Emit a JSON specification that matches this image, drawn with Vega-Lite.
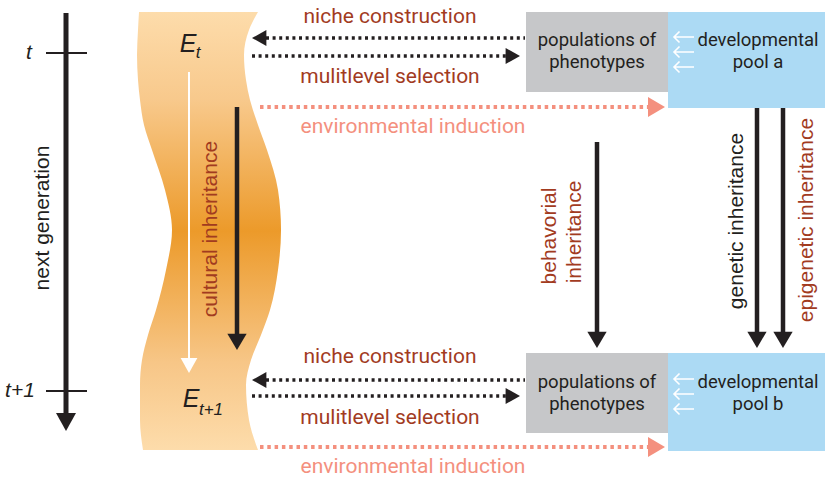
{
  "$schema": "https://vega.github.io/schema/vega-lite/v6.json",
  "width": 825,
  "height": 477,
  "padding": 0,
  "autosize": {"type": "none"},
  "background": "white",
  "config": {"view": {"stroke": null}},
  "datasets": {
    "band": [
      {"y": 12, "x": 139, "x2": 258},
      {"y": 30, "x": 138, "x2": 249},
      {"y": 55, "x": 137, "x2": 244},
      {"y": 80, "x": 138, "x2": 246},
      {"y": 100, "x": 140, "x2": 250},
      {"y": 125, "x": 144, "x2": 258},
      {"y": 150, "x": 152, "x2": 267},
      {"y": 190, "x": 165, "x2": 278},
      {"y": 230, "x": 172, "x2": 281},
      {"y": 270, "x": 166, "x2": 278},
      {"y": 310, "x": 156, "x2": 270},
      {"y": 335, "x": 148, "x2": 261},
      {"y": 360, "x": 142, "x2": 251},
      {"y": 385, "x": 140, "x2": 246},
      {"y": 420, "x": 140, "x2": 249},
      {"y": 450, "x": 143, "x2": 258}
    ],
    "boxes": [
      {"x": 526, "x2": 668, "y": 12, "y2": 92, "kind": "pop"},
      {"x": 668, "x2": 825, "y": 12, "y2": 108, "kind": "dev"},
      {"x": 526, "x2": 668, "y": 353, "y2": 433, "kind": "pop"},
      {"x": 668, "x2": 825, "y": 353, "y2": 451, "kind": "dev"}
    ],
    "lines": [
      {"x": 66, "x2": 66, "y": 13, "y2": 414, "kind": "timeline"},
      {"x": 46, "x2": 87, "y": 53, "y2": 53, "kind": "tick"},
      {"x": 46, "x2": 87, "y": 391, "y2": 391, "kind": "tick"},
      {"x": 237, "x2": 237, "y": 107, "y2": 336, "kind": "solid"},
      {"x": 597, "x2": 597, "y": 142, "y2": 334, "kind": "solid"},
      {"x": 757, "x2": 757, "y": 108, "y2": 334, "kind": "solid"},
      {"x": 783, "x2": 783, "y": 108, "y2": 334, "kind": "solid"},
      {"x": 189, "x2": 189, "y": 72, "y2": 358, "kind": "white"},
      {"x": 266, "x2": 525, "y": 38, "y2": 38, "kind": "dotted"},
      {"x": 252, "x2": 506, "y": 56, "y2": 56, "kind": "dotted"},
      {"x": 266, "x2": 525, "y": 380, "y2": 380, "kind": "dotted"},
      {"x": 252, "x2": 506, "y": 396, "y2": 396, "kind": "dotted"},
      {"x": 260, "x2": 648, "y": 107, "y2": 107, "kind": "env"},
      {"x": 260, "x2": 648, "y": 447, "y2": 447, "kind": "env"}
    ],
    "heads": [
      {"x": 66, "y": 431, "kind": "bigdown"},
      {"x": 237, "y": 350, "kind": "down"},
      {"x": 597, "y": 348, "kind": "down"},
      {"x": 757, "y": 348, "kind": "down"},
      {"x": 783, "y": 348, "kind": "down"},
      {"x": 189, "y": 373, "kind": "whitedown"},
      {"x": 252, "y": 38, "kind": "left"},
      {"x": 252, "y": 380, "kind": "left"},
      {"x": 520, "y": 56, "kind": "right"},
      {"x": 520, "y": 396, "kind": "right"},
      {"x": 665, "y": 107, "kind": "envright"},
      {"x": 665, "y": 447, "kind": "envright"}
    ],
    "smallarrows": [
      {"x": 684, "y": 37}, {"x": 684, "y": 52}, {"x": 684, "y": 67},
      {"x": 684, "y": 379}, {"x": 684, "y": 394}, {"x": 684, "y": 409}
    ],
    "texts": [
      {"x": 390, "y": 17, "label": "niche construction", "kind": "brown"},
      {"x": 390, "y": 77, "label": "mulitlevel selection", "kind": "brown"},
      {"x": 390, "y": 357, "label": "niche construction", "kind": "brown"},
      {"x": 390, "y": 418, "label": "mulitlevel selection", "kind": "brown"},
      {"x": 413, "y": 127, "label": "environmental induction", "kind": "salmon"},
      {"x": 413, "y": 467, "label": "environmental induction", "kind": "salmon"},
      {"x": 597, "y": 40, "label": "populations of", "kind": "box"},
      {"x": 597, "y": 62, "label": "phenotypes", "kind": "box"},
      {"x": 758, "y": 40, "label": "developmental", "kind": "box"},
      {"x": 758, "y": 62, "label": "pool a", "kind": "box"},
      {"x": 597, "y": 382, "label": "populations of", "kind": "box"},
      {"x": 597, "y": 404, "label": "phenotypes", "kind": "box"},
      {"x": 758, "y": 382, "label": "developmental", "kind": "box"},
      {"x": 758, "y": 404, "label": "pool b", "kind": "box"},
      {"x": 211, "y": 229, "label": "cultural inheritance", "kind": "rotbrown"},
      {"x": 550, "y": 236, "label": "behavorial", "kind": "rotbrown"},
      {"x": 575, "y": 232, "label": "inheritance", "kind": "rotbrown"},
      {"x": 807, "y": 220, "label": "epigenetic inheritance", "kind": "rotbrown"},
      {"x": 43, "y": 218, "label": "next generation", "kind": "rotdark"},
      {"x": 737, "y": 221, "label": "genetic inheritance", "kind": "rotdark"},
      {"x": 29, "y": 53, "label": "t", "kind": "ital"},
      {"x": 20, "y": 391, "label": "t+1", "kind": "ital"},
      {"x": 188, "y": 44, "label": "E", "kind": "E"},
      {"x": 191, "y": 399, "label": "E", "kind": "E"},
      {"x": 198, "y": 53, "label": "t", "kind": "sub"},
      {"x": 211, "y": 410, "label": "t+1", "kind": "sub"}
    ]
  },
  "encoding": {
    "x": {"field": "x", "type": "quantitative", "scale": {"domain": [0, 825], "nice": false, "zero": false}, "axis": null},
    "y": {"field": "y", "type": "quantitative", "scale": {"domain": [0, 477], "nice": false, "zero": false, "reverse": true}, "axis": null}
  },
  "layer": [
    {
      "data": {"name": "band"},
      "mark": {
        "type": "area", "orient": "horizontal", "interpolate": "monotone",
        "fill": {"gradient": "linear", "x1": 0, "y1": 0, "x2": 0, "y2": 1,
          "stops": [
            {"offset": 0, "color": "#fddcab"},
            {"offset": 0.2, "color": "#f8c98c"},
            {"offset": 0.5, "color": "#ec9a2a"},
            {"offset": 0.8, "color": "#f7c687"},
            {"offset": 1, "color": "#fddcab"}
          ]}
      },
      "encoding": {"x2": {"field": "x2"}}
    },
    {
      "data": {"name": "boxes"},
      "transform": [{"filter": "datum.kind === 'pop'"}],
      "mark": {"type": "rect", "color": "#c6c7c9"},
      "encoding": {"x2": {"field": "x2"}, "y2": {"field": "y2"}}
    },
    {
      "data": {"name": "boxes"},
      "transform": [{"filter": "datum.kind === 'dev'"}],
      "mark": {"type": "rect", "color": "#acdaf4"},
      "encoding": {"x2": {"field": "x2"}, "y2": {"field": "y2"}}
    },
    {
      "data": {"name": "lines"},
      "transform": [{"filter": "datum.kind === 'timeline'"}],
      "mark": {"type": "rule", "color": "#231f20", "strokeWidth": 5},
      "encoding": {"x2": {"field": "x2"}, "y2": {"field": "y2"}}
    },
    {
      "data": {"name": "lines"},
      "transform": [{"filter": "datum.kind === 'tick'"}],
      "mark": {"type": "rule", "color": "#231f20", "strokeWidth": 2},
      "encoding": {"x2": {"field": "x2"}, "y2": {"field": "y2"}}
    },
    {
      "data": {"name": "lines"},
      "transform": [{"filter": "datum.kind === 'solid'"}],
      "mark": {"type": "rule", "color": "#231f20", "strokeWidth": 4.5},
      "encoding": {"x2": {"field": "x2"}, "y2": {"field": "y2"}}
    },
    {
      "data": {"name": "lines"},
      "transform": [{"filter": "datum.kind === 'white'"}],
      "mark": {"type": "rule", "color": "#ffffff", "strokeWidth": 2},
      "encoding": {"x2": {"field": "x2"}, "y2": {"field": "y2"}}
    },
    {
      "data": {"name": "lines"},
      "transform": [{"filter": "datum.kind === 'dotted'"}],
      "mark": {"type": "rule", "color": "#231f20", "strokeWidth": 3.5, "strokeDash": [3, 3.6]},
      "encoding": {"x2": {"field": "x2"}, "y2": {"field": "y2"}}
    },
    {
      "data": {"name": "lines"},
      "transform": [{"filter": "datum.kind === 'env'"}],
      "mark": {"type": "rule", "color": "#f4907e", "strokeWidth": 4, "strokeDash": [3.5, 3.8]},
      "encoding": {"x2": {"field": "x2"}, "y2": {"field": "y2"}}
    },
    {
      "data": {"name": "heads"},
      "transform": [{"filter": "datum.kind === 'bigdown'"}],
      "mark": {"type": "point", "filled": true, "opacity": 1, "color": "#231f20", "strokeWidth": 0, "shape": "M0,0L-1,-1.8L1,-1.8Z", "size": 400}
    },
    {
      "data": {"name": "heads"},
      "transform": [{"filter": "datum.kind === 'down'"}],
      "mark": {"type": "point", "filled": true, "opacity": 1, "color": "#231f20", "strokeWidth": 0, "shape": "M0,0L-1,-1.7L1,-1.7Z", "size": 370}
    },
    {
      "data": {"name": "heads"},
      "transform": [{"filter": "datum.kind === 'whitedown'"}],
      "mark": {"type": "point", "filled": true, "opacity": 1, "color": "#ffffff", "strokeWidth": 0, "shape": "M0,0L-1,-1.8L1,-1.8Z", "size": 280}
    },
    {
      "data": {"name": "heads"},
      "transform": [{"filter": "datum.kind === 'left'"}],
      "mark": {"type": "point", "filled": true, "opacity": 1, "color": "#231f20", "strokeWidth": 0, "shape": "M0,0L1.8,-1L1.8,1Z", "size": 256}
    },
    {
      "data": {"name": "heads"},
      "transform": [{"filter": "datum.kind === 'right'"}],
      "mark": {"type": "point", "filled": true, "opacity": 1, "color": "#231f20", "strokeWidth": 0, "shape": "M0,0L-1.8,-1L-1.8,1Z", "size": 256}
    },
    {
      "data": {"name": "heads"},
      "transform": [{"filter": "datum.kind === 'envright'"}],
      "mark": {"type": "point", "filled": true, "opacity": 1, "color": "#f4907e", "strokeWidth": 0, "shape": "M0,0L-1.7,-1L-1.7,1Z", "size": 400}
    },
    {
      "data": {"name": "smallarrows"},
      "mark": {"type": "point", "filled": false, "opacity": 1, "color": "#ffffff", "strokeWidth": 1.6, "shape": "M1,0L-1,0M-0.45,-0.55L-1,0L-0.45,0.55", "size": 400}
    },
    {
      "data": {"name": "texts"},
      "transform": [{"filter": "datum.kind === 'brown'"}],
      "mark": {"type": "text", "font": "Roboto", "fontSize": 21, "color": "#a23b1f", "align": "center", "baseline": "middle"},
      "encoding": {"text": {"field": "label"}}
    },
    {
      "data": {"name": "texts"},
      "transform": [{"filter": "datum.kind === 'salmon'"}],
      "mark": {"type": "text", "font": "Roboto", "fontSize": 21, "color": "#f4907e", "align": "center", "baseline": "middle"},
      "encoding": {"text": {"field": "label"}}
    },
    {
      "data": {"name": "texts"},
      "transform": [{"filter": "datum.kind === 'box'"}],
      "mark": {"type": "text", "font": "Roboto", "fontSize": 18.5, "color": "#231f20", "align": "center", "baseline": "middle"},
      "encoding": {"text": {"field": "label"}}
    },
    {
      "data": {"name": "texts"},
      "transform": [{"filter": "datum.kind === 'rotbrown'"}],
      "mark": {"type": "text", "font": "Liberation Sans", "fontSize": 21, "color": "#a23b1f", "align": "center", "baseline": "middle", "angle": 270},
      "encoding": {"text": {"field": "label"}}
    },
    {
      "data": {"name": "texts"},
      "transform": [{"filter": "datum.kind === 'rotdark'"}],
      "mark": {"type": "text", "font": "Liberation Sans", "fontSize": 21, "color": "#231f20", "align": "center", "baseline": "middle", "angle": 270},
      "encoding": {"text": {"field": "label"}}
    },
    {
      "data": {"name": "texts"},
      "transform": [{"filter": "datum.kind === 'ital'"}],
      "mark": {"type": "text", "font": "Liberation Sans", "fontStyle": "italic", "fontSize": 21, "color": "#231f20", "align": "center", "baseline": "middle"},
      "encoding": {"text": {"field": "label"}}
    },
    {
      "data": {"name": "texts"},
      "transform": [{"filter": "datum.kind === 'E'"}],
      "mark": {"type": "text", "font": "Liberation Sans", "fontStyle": "italic", "fontSize": 25, "color": "#231f20", "align": "center", "baseline": "middle"},
      "encoding": {"text": {"field": "label"}}
    },
    {
      "data": {"name": "texts"},
      "transform": [{"filter": "datum.kind === 'sub'"}],
      "mark": {"type": "text", "font": "Liberation Sans", "fontStyle": "italic", "fontSize": 17, "color": "#231f20", "align": "center", "baseline": "middle"},
      "encoding": {"text": {"field": "label"}}
    }
  ]
}
